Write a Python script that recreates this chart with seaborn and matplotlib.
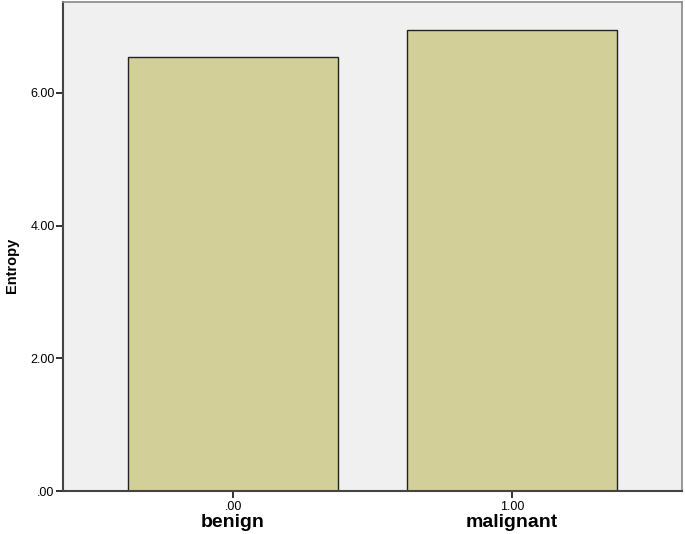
import pandas as pd
import matplotlib
matplotlib.use("Agg")
import matplotlib.pyplot as plt
import matplotlib.transforms as mtransforms
import seaborn as sns

codes = [".00", "1.00"]
groups = ["benign", "malignant"]
entropy = [6.54, 6.95]
y_ticks = [0, 2, 4, 6]
y_tick_labels = [".00", "2.00", "4.00", "6.00"]

df = pd.DataFrame({"code": codes, "group": groups, "Entropy": entropy})

sns.set_style("white")
plt.rcParams["font.family"] = ["Liberation Sans", "DejaVu Sans"]
plt.rcParams["text.color"] = "black"
plt.rcParams["xtick.color"] = "black"
plt.rcParams["ytick.color"] = "black"

fig = plt.figure(figsize=(6.85, 5.34), dpi=100)
ax = fig.add_axes([0.092, 0.0805, 0.9036, 0.9158])
ax.set_facecolor("#f0f0f0")

sns.barplot(data=df, x="code", y="Entropy", color="#d3cf98", saturation=1,
            width=0.754, edgecolor="#222222", linewidth=1.0, ax=ax)

ax.set_xlim(-0.61, 1.61)
ax.set_ylim(0, 7.37)
ax.set_yticks(y_ticks)
ax.set_yticklabels(y_tick_labels, fontsize=9)
ax.set_xticklabels(codes, fontsize=9)
ax.tick_params(axis="both", bottom=True, left=True, length=5, width=1.3,
               color="#222222", labelcolor="black", pad=1, direction="out")
ax.tick_params(axis="x", pad=2)
ax.set_xlabel("")
ax.set_ylabel("")

for s in ["left", "bottom"]:
    ax.spines[s].set_color("#444444")
    ax.spines[s].set_linewidth(1.5)
for s in ["top", "right"]:
    ax.spines[s].set_color("#888888")
    ax.spines[s].set_linewidth(1.2)

fig.text(12 / 685, 1 - 265 / 534, "Entropy", rotation=90, ha="center", va="center",
         fontsize=10.5, fontweight="bold", color="black")

trans = mtransforms.blended_transform_factory(ax.transData, fig.transFigure)
for i, g in enumerate(df["group"]):
    ax.text(i, 0.005, g, transform=trans, ha="center", va="bottom",
            fontsize=14, fontweight="bold", color="black")

fig.savefig("out.png", dpi=100)
